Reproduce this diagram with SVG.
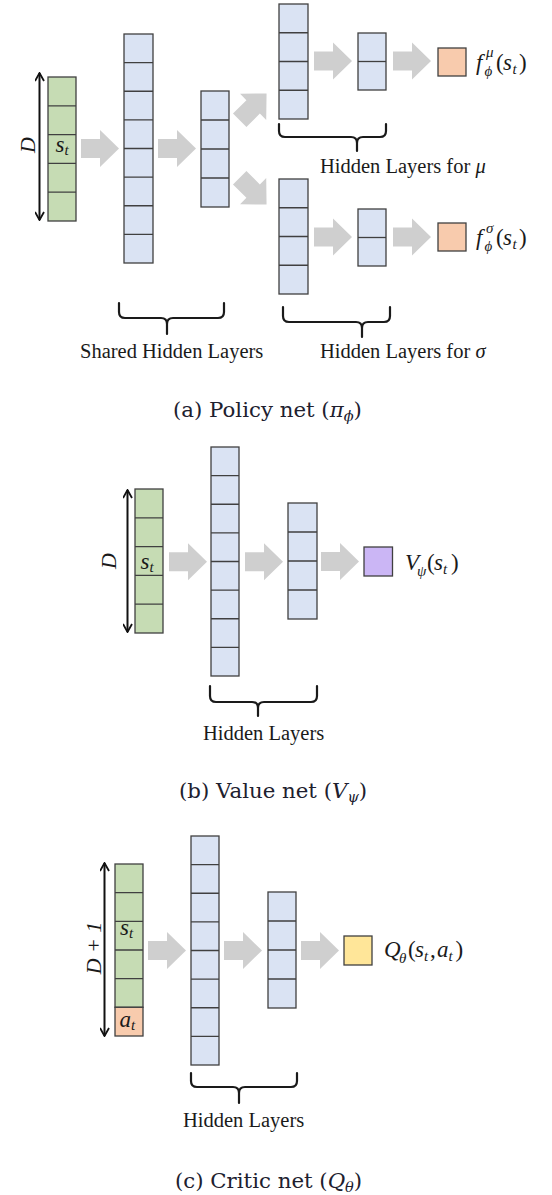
<svg xmlns="http://www.w3.org/2000/svg" xmlns:xlink="http://www.w3.org/1999/xlink" width="552" height="1195" viewBox="0 0 552 1195">
<style>
.cell{stroke:#404040;stroke-width:1.3}
.g{fill:#c6dcb4}
.b{fill:#dae3f3}
.o{fill:#f8cbad}
.p{fill:#cbb6f5}
.y{fill:#ffe699}
.div{stroke:#404040;stroke-width:1.3}
.arr{fill:#cfcfcf}
.brace{fill:none;stroke:#1a1a1a;stroke-width:2.2;stroke-linecap:round}
.lbl{font-family:"Liberation Serif",serif;font-size:20.5px;fill:#1a1a1a}
.m{font-family:"Liberation Serif",serif;font-style:italic;fill:#1a1a1a}
.up{font-family:"Liberation Serif",serif;fill:#1a1a1a}
.cap{font-family:"DejaVu Serif",serif;font-size:21.3px;fill:#20202e}
.dim{stroke:#111;stroke-width:2;fill:none;marker-start:url(#chev);marker-end:url(#chev)}
</style>
<defs>
<marker id="chev" viewBox="0 0 10 10" refX="9" refY="5" markerWidth="10" markerHeight="10" markerUnits="userSpaceOnUse" orient="auto-start-reverse">
<path d="M1,0.5 L9,5 L1,9.5" fill="none" stroke="#111" stroke-width="1.8"/>
</marker>
<path id="barrow" d="M0,-9.5 H19 V-18.5 L38,0 L19,18.5 V9.5 H0 Z"/>
</defs>

<!-- ===== (a) Policy net ===== -->
<g id="policy-input">
<line class="dim" x1="39.5" y1="73" x2="39.5" y2="220"/>
<text class="m" font-size="22" transform="translate(27,145) rotate(-90)" text-anchor="middle" dominant-baseline="central">D</text>
<rect class="cell g" x="48" y="77" width="28" height="144"/>
<path class="div" d="M48,105.8H76M48,134.6H76M48,163.4H76M48,192.2H76"/>
<text class="m" font-size="23" x="55.5" y="152">s<tspan font-size="15" dy="3">t</tspan></text>
</g>
<g id="policy-shared1">
<rect class="cell b" x="124" y="34" width="29" height="229"/>
<path class="div" d="M124,62.6H153M124,91.25H153M124,119.9H153M124,148.5H153M124,177.1H153M124,205.75H153M124,234.4H153"/>
</g>
<g id="policy-shared2">
<rect class="cell b" x="201" y="91" width="28" height="116"/>
<path class="div" d="M201,120H229M201,149H229M201,178H229"/>
</g>
<g id="policy-mu1">
<rect class="cell b" x="279" y="4" width="29" height="115"/>
<path class="div" d="M279,32.75H308M279,61.5H308M279,90.25H308"/>
</g>
<g id="policy-mu2">
<rect class="cell b" x="358" y="33" width="28" height="57"/>
<path class="div" d="M358,61.5H386"/>
</g>
<g id="policy-mu-out">
<rect class="cell o" x="438" y="48" width="28" height="28"/>
<text class="m" font-size="23" x="476" y="70">f</text>
<text class="m" font-size="15" x="486" y="57">μ</text>
<text class="m" font-size="15" x="484.5" y="76">ϕ</text>
<text class="up" font-size="23" x="496" y="70">(</text>
<text class="m" font-size="23" x="503" y="70">s</text>
<text class="m" font-size="15" x="512.5" y="74">t</text>
<text class="up" font-size="23" x="519" y="70">)</text>
</g>
<g id="policy-sigma1">
<rect class="cell b" x="279" y="179" width="29" height="115"/>
<path class="div" d="M279,207.75H308M279,236.5H308M279,265.25H308"/>
</g>
<g id="policy-sigma2">
<rect class="cell b" x="358" y="209" width="28" height="57"/>
<path class="div" d="M358,237.5H386"/>
</g>
<g id="policy-sigma-out">
<rect class="cell o" x="438" y="223" width="28" height="28"/>
<text class="m" font-size="23" x="476" y="245">f</text>
<text class="m" font-size="15" x="486" y="233">σ</text>
<text class="m" font-size="15" x="484.5" y="251">ϕ</text>
<text class="up" font-size="23" x="496" y="245">(</text>
<text class="m" font-size="23" x="503" y="245">s</text>
<text class="m" font-size="15" x="512.5" y="249">t</text>
<text class="up" font-size="23" x="519" y="245">)</text>
</g>
<g id="policy-labels">
<path class="brace" d="M119,303V312Q119,318 125,318H161Q167,318 167,324V334M167,324Q167,318 173,318H218Q224,318 224,312V303"/>
<text class="lbl" x="80" y="358">Shared Hidden Layers</text>
<path class="brace" d="M279,124V131Q279,137 285,137H351Q357,137 357,143V151M357,143Q357,137 363,137H380Q386,137 386,131V124"/>
<text class="lbl" x="320" y="173">Hidden Layers for <tspan font-style="italic">μ</tspan></text>
<path class="brace" d="M283,307V316Q283,322 289,322H356Q362,322 362,328V337M362,328Q362,322 368,322H384Q390,322 390,316V307"/>
<text class="lbl" x="320" y="358">Hidden Layers for <tspan font-style="italic">σ</tspan></text>
<text class="cap" x="173" y="417">(a) Policy net (<tspan font-style="italic">π</tspan><tspan font-style="italic" font-size="14.5" dy="4">ϕ</tspan><tspan dy="-4">)</tspan></text>
</g>

<!-- ===== (b) Value net ===== -->
<g id="value-input">
<line class="dim" x1="127.5" y1="490" x2="127.5" y2="632"/>
<text class="m" font-size="22" transform="translate(108,561) rotate(-90)" text-anchor="middle" dominant-baseline="central">D</text>
<rect class="cell g" x="135" y="489" width="28" height="144"/>
<path class="div" d="M135,517.8H163M135,546.6H163M135,575.4H163M135,604.2H163"/>
<text class="m" font-size="23" x="140.5" y="569">s<tspan font-size="15" dy="3">t</tspan></text>
</g>
<g id="value-hidden1">
<rect class="cell b" x="211" y="447" width="28" height="229"/>
<path class="div" d="M211,475.6H239M211,504.25H239M211,532.9H239M211,561.5H239M211,590.1H239M211,618.75H239M211,647.4H239"/>
</g>
<g id="value-hidden2">
<rect class="cell b" x="288" y="503" width="29" height="116"/>
<path class="div" d="M288,532H317M288,561H317M288,590H317"/>
</g>
<g id="value-out">
<rect class="cell p" x="364" y="547" width="28.5" height="29"/>
<text class="m" font-size="23" x="405" y="570">V</text>
<text class="m" font-size="15" x="417" y="576">ψ</text>
<text class="up" font-size="23" x="427" y="570">(</text>
<text class="m" font-size="23" x="434" y="570">s</text>
<text class="m" font-size="15" x="443" y="574">t</text>
<text class="up" font-size="23" x="451" y="570">)</text>
</g>
<g id="value-labels">
<path class="brace" d="M210,686V696Q210,702 216,702H252Q258,702 258,708V716M258,708Q258,702 264,702H311Q317,702 317,696V686"/>
<text class="lbl" x="203" y="740">Hidden Layers</text>
<text class="cap" x="179" y="798">(b) Value net (<tspan font-style="italic">V</tspan><tspan font-style="italic" font-size="14.5" dy="4">ψ</tspan><tspan dy="-4">)</tspan></text>
</g>

<!-- ===== (c) Critic net ===== -->
<g id="critic-input">
<line class="dim" x1="104.5" y1="863" x2="104.5" y2="1036"/>
<text class="m" font-size="22" transform="translate(93,948) rotate(-90)" text-anchor="middle" dominant-baseline="central">D + 1</text>
<rect class="cell g" x="115" y="864" width="28" height="143.3"/>
<rect class="cell o" x="115" y="1007.3" width="28" height="28.7"/>
<path class="div" d="M115,892.7H143M115,921.3H143M115,950H143M115,978.7H143"/>
<text class="m" font-size="23" x="120" y="935">s<tspan font-size="15" dy="3">t</tspan></text>
<text class="m" font-size="23" x="119.5" y="1027">a<tspan font-size="15" dy="3">t</tspan></text>
</g>
<g id="critic-hidden1">
<rect class="cell b" x="191" y="836" width="28" height="229"/>
<path class="div" d="M191,864.6H219M191,893.25H219M191,921.9H219M191,950.5H219M191,979.1H219M191,1007.75H219M191,1036.4H219"/>
</g>
<g id="critic-hidden2">
<rect class="cell b" x="268" y="892" width="28" height="116"/>
<path class="div" d="M268,921H296M268,950H296M268,979H296"/>
</g>
<g id="critic-out">
<rect class="cell y" x="344" y="936" width="28" height="29"/>
<text class="m" font-size="23" x="384" y="957">Q</text>
<text class="m" font-size="15" x="399" y="963">θ</text>
<text class="up" font-size="23" x="408" y="957">(</text>
<text class="m" font-size="23" x="415" y="957">s</text>
<text class="m" font-size="15" x="424" y="961">t</text>
<text class="up" font-size="23" x="430" y="957">,</text>
<text class="m" font-size="23" x="437" y="957">a</text>
<text class="m" font-size="15" x="448.5" y="961">t</text>
<text class="up" font-size="23" x="455.5" y="957">)</text>
</g>
<g id="critic-labels">
<path class="brace" d="M191,1073V1081Q191,1087 197,1087H233Q239,1087 239,1093V1103M239,1093Q239,1087 245,1087H291Q297,1087 297,1081V1073"/>
<text class="lbl" x="183" y="1127">Hidden Layers</text>
<text class="cap" x="175" y="1188">(c) Critic net (<tspan font-style="italic">Q</tspan><tspan font-style="italic" font-size="14.5" dy="4">θ</tspan><tspan dy="-4">)</tspan></text>
</g>

<!-- ===== connectors ===== -->
<g id="connectors" class="arr">
<use xlink:href="#barrow" transform="translate(81,148.5)"/>
<use xlink:href="#barrow" transform="translate(158,148.5)"/>
<use xlink:href="#barrow" transform="translate(239.7,120.3) rotate(-45)"/>
<use xlink:href="#barrow" transform="translate(239.7,177.7) rotate(45)"/>
<use xlink:href="#barrow" transform="translate(314,61)"/>
<use xlink:href="#barrow" transform="translate(393,61)"/>
<use xlink:href="#barrow" transform="translate(314,237)"/>
<use xlink:href="#barrow" transform="translate(393,237)"/>
<use xlink:href="#barrow" transform="translate(169,561.7)"/>
<use xlink:href="#barrow" transform="translate(245,561.7)"/>
<use xlink:href="#barrow" transform="translate(321,561.5)"/>
<use xlink:href="#barrow" transform="translate(148,950.5)"/>
<use xlink:href="#barrow" transform="translate(224,950.5)"/>
<use xlink:href="#barrow" transform="translate(301,950.5)"/>
</g>
</svg>
